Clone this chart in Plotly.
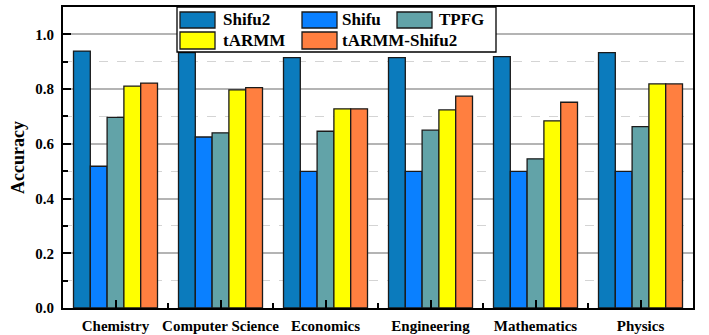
import plotly.graph_objects as go

categories = ["Chemistry", "Computer Science", "Economics", "Engineering", "Mathematics", "Physics"]
series_names = ["Shifu2", "Shifu", "TPFG", "tARMM", "tARMM-Shifu2"]
shifu2 = [0.939, 0.933, 0.915, 0.915, 0.919, 0.933]
shifu = [0.518, 0.625, 0.499, 0.499, 0.499, 0.499]
tpfg = [0.697, 0.640, 0.646, 0.650, 0.545, 0.663]
tarmm = [0.811, 0.797, 0.728, 0.724, 0.684, 0.819]
tarmm_shifu2 = [0.822, 0.805, 0.728, 0.774, 0.752, 0.819]
y_ticks = [0.0, 0.2, 0.4, 0.6, 0.8, 1.0]

colors = ["#0B7BBD", "#0A80FF", "#62A3A8", "#FFFF00", "#FF7F40"]
values = [shifu2, shifu, tpfg, tarmm, tarmm_shifu2]

W, H = 709, 335
ML, MR, MT, MB = 63, 16, 7, 27
FONT = "Liberation Serif"

xpos = list(range(len(categories)))

fig = go.Figure()
for name, col, vals in zip(series_names, colors, values):
    fig.add_trace(go.Bar(
        x=xpos, y=vals, name=name,
        marker=dict(color=col, line=dict(color="#1a1a1a", width=1.3)),
        showlegend=False,
    ))

# manual legend (pixel layout -> paper coords)
pw, ph = W - ML - MR, H - MT - MB
def px(x):
    return (x - ML) / pw
def py(y):
    return 1 - (y - MT) / ph

shapes = [dict(type="rect", xref="paper", yref="paper",
               x0=px(177), x1=px(496), y0=py(52), y1=py(MT),
               fillcolor="white", line=dict(color="black", width=1.3), layer="above")]
annotations = []
sym_x = [180, 302, 397]
txt_x = [221, 340, 437]
rows_y = [(12, 28), (32, 49)]
for i, (name, col) in enumerate(zip(series_names, colors)):
    r, c = divmod(i, 3)
    y0, y1 = rows_y[r]
    shapes.append(dict(type="rect", xref="paper", yref="paper",
                       x0=px(sym_x[c]), x1=px(sym_x[c] + 35), y0=py(y1), y1=py(y0),
                       fillcolor=col, line=dict(color="#1a1a1a", width=1.3), layer="above"))
    annotations.append(dict(xref="paper", yref="paper", x=px(txt_x[c]), y=py((y0 + y1) / 2),
                            text=f"<b>{name}</b>", showarrow=False, xanchor="left", yanchor="middle",
                            font=dict(family=FONT, size=17, color="black")))

fig.update_layout(
    width=W, height=H,
    margin=dict(l=ML, r=MR, t=MT, b=MB, autoexpand=False),
    paper_bgcolor="white", plot_bgcolor="white",
    barmode="group", bargap=0.2, bargroupgap=0,
    font=dict(family=FONT, color="black"),
    shapes=shapes, annotations=annotations,
)
fig.update_xaxes(
    automargin=False,
    range=[-0.5, len(categories) - 0.5],
    tickvals=xpos, ticktext=[f"<b>{c}</b>" for c in categories],
    tickfont=dict(family=FONT, size=15, color="black"),
    ticks="inside", ticklen=8, tickwidth=1.5, tickcolor="black",
    ticklabelstandoff=3,
    minor=dict(dtick=0.5, tick0=-0.5, ticks="inside", ticklen=5, tickwidth=1.5, tickcolor="black", showgrid=False),
    showline=True, linewidth=2, linecolor="black", mirror=True,
    showgrid=False, zeroline=False,
)
fig.update_yaxes(
    automargin=False,
    range=[0, 1.1],
    tickvals=y_ticks, ticktext=[f"<b>{v:.1f}</b>" for v in y_ticks],
    tickfont=dict(family=FONT, size=15, color="black"),
    ticks="inside", ticklen=8, tickwidth=1.5, tickcolor="black",
    ticklabelstandoff=4,
    minor=dict(dtick=0.1, tick0=0, ticks="inside", ticklen=5, tickwidth=1.5, tickcolor="black",
               showgrid=True, gridcolor="#d4d4d4", griddash="dash", gridwidth=1),
    showgrid=True, gridcolor="#b4b4b4", gridwidth=1.5,
    showline=True, linewidth=2, linecolor="black", mirror=True,
    zeroline=False,
    title=dict(text="<b>Accuracy</b>", font=dict(family=FONT, size=18, color="black"), standoff=6),
)

fig.write_html("out.html")
